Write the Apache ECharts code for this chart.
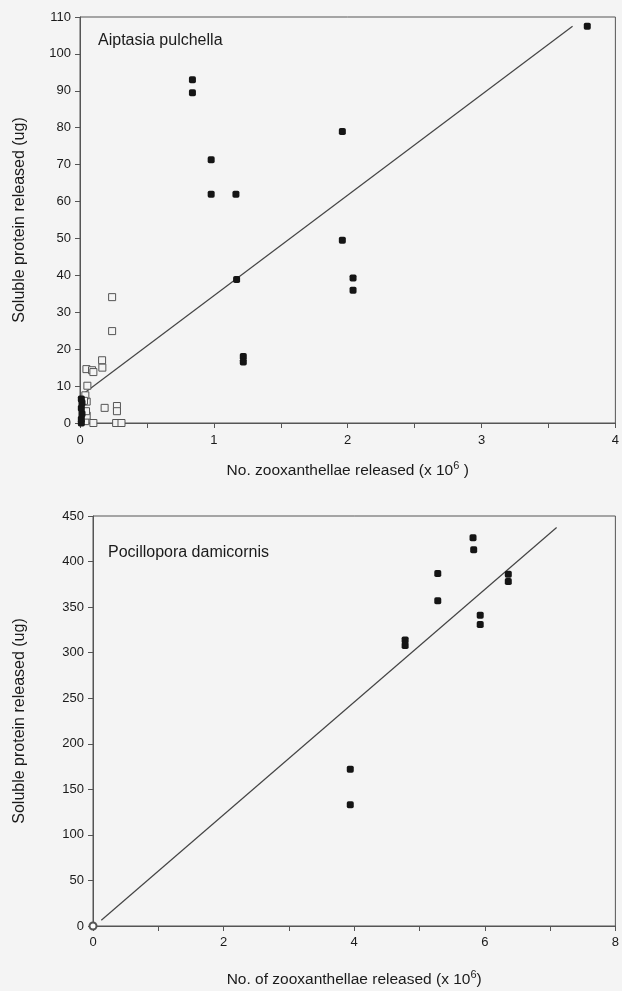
<!DOCTYPE html>
<html>
<head>
<meta charset="utf-8">
<script src="https://cdn.jsdelivr.net/npm/echarts@6/dist/echarts.min.js"></script>
<style>
  html, body { margin: 0; padding: 0; background: #f4f4f4; }
  #chart { width: 622px; height: 991px; }
</style>
</head>
<body>
<div id="chart"></div>
<script>
// Aiptasia pulchella: [zooxanthellae released (x 10^6), soluble protein (ug)]
var aiptasiaFilled = [
    [0.84, 93], [0.84, 89.5], [0.98, 71.3], [0.98, 62], [1.165, 62],
    [1.17, 38.9], [1.22, 18], [1.22, 16.5], [1.96, 79], [1.96, 49.5],
    [2.04, 39.3], [2.04, 36], [3.79, 107.5],
    [0.01, 0], [0.01, 1], [0.015, 2.5], [0.01, 4], [0.015, 5.5], [0.01, 6.5]
];
var aiptasiaOpen = [
    [0.24, 34.1], [0.24, 24.9], [0.165, 17], [0.167, 15], [0.048, 14.6],
    [0.09, 14.3], [0.1, 13.8], [0.055, 10.1], [0.184, 4.1], [0.276, 4.6],
    [0.276, 3.2], [0.1, 0], [0.27, 0], [0.31, 0],
    [0.04, 0.5], [0.05, 2], [0.045, 3.2], [0.05, 5.8], [0.04, 7.5], [0.03, 6]
];
var aiptasiaFit = [[0.035, 8.2], [3.68, 107.5]];

// Pocillopora damicornis
var pocilloporaFilled = [
    [5.82, 426], [5.83, 413], [5.28, 387], [5.28, 357], [6.36, 386],
    [6.36, 378], [5.93, 341], [5.93, 331], [4.78, 314], [4.78, 308],
    [3.94, 172], [3.94, 133]
];
var pocilloporaOpen = [[0, 0]];
var pocilloporaFit = [[0.127, 6.3], [7.1, 437.4]];

var ink = '#1a1a1a';
var fontFamily = 'Liberation Sans, Arial, sans-serif';
var labelFont = { color: ink, fontSize: 13, fontFamily: fontFamily };
var nameRich = {
    sup: { fontSize: 11, verticalAlign: 'bottom', padding: [0, 0, 10, 0], color: ink, fontFamily: fontFamily },
    p: { fontSize: 15.5, color: ink, fontFamily: fontFamily }
};

var chart = echarts.init(document.getElementById('chart'));

option = {
    backgroundColor: '#f4f4f4',
    animation: false,
    title: [
        { text: 'Aiptasia pulchella', left: 93, top: 28,
          textStyle: { color: ink, fontSize: 16, fontWeight: 'normal', fontFamily: fontFamily } },
        { text: 'Pocillopora damicornis', left: 103, top: 540,
          textStyle: { color: ink, fontSize: 16, fontWeight: 'normal', fontFamily: fontFamily } }
    ],
    grid: [
        { left: 80, right: 6, top: 17, height: 406, show: true, borderColor: '#555', borderWidth: 1 },
        { left: 93, right: 4, top: 516, height: 410, show: true, borderColor: '#555', borderWidth: 1 }
    ],
    xAxis: [
        {
            gridIndex: 0, type: 'value', min: 0, max: 4, interval: 0.5,
            name: 'No. zooxanthellae released (x 10{sup|6}{p| )}',
            nameLocation: 'middle', nameGap: 37,
            nameTextStyle: { color: ink, fontSize: 15.5, fontFamily: fontFamily, rich: nameRich },
            axisLine: { lineStyle: { color: '#555' } },
            axisTick: { length: 5, lineStyle: { color: '#555' } },
            axisLabel: Object.assign({ margin: 11, formatter: function (v) { return v % 1 === 0 ? String(v) : ''; } }, labelFont),
            splitLine: { show: false }
        },
        {
            gridIndex: 1, type: 'value', min: 0, max: 8, interval: 1,
            name: 'No. of zooxanthellae released (x 10{sup|6}{p|)}',
            nameLocation: 'middle', nameGap: 43,
            nameTextStyle: { color: ink, fontSize: 15.5, fontFamily: fontFamily, rich: nameRich },
            axisLine: { lineStyle: { color: '#555' } },
            axisTick: { length: 5, lineStyle: { color: '#555' } },
            axisLabel: Object.assign({ margin: 10, formatter: function (v) { return v % 2 === 0 ? String(v) : ''; } }, labelFont),
            splitLine: { show: false }
        }
    ],
    yAxis: [
        {
            gridIndex: 0, type: 'value', min: 0, max: 110, interval: 10,
            name: 'Soluble protein released (ug)',
            nameLocation: 'middle', nameGap: 52,
            nameTextStyle: { color: ink, fontSize: 16, fontFamily: fontFamily },
            axisLine: { show: true, lineStyle: { color: '#555' } },
            axisTick: { show: true, length: 5, lineStyle: { color: '#555' } },
            axisLabel: Object.assign({ margin: 9 }, labelFont),
            splitLine: { show: false }
        },
        {
            gridIndex: 1, type: 'value', min: 0, max: 450, interval: 50,
            name: 'Soluble protein released (ug)',
            nameLocation: 'middle', nameGap: 65,
            nameTextStyle: { color: ink, fontSize: 16, fontFamily: fontFamily },
            axisLine: { show: true, lineStyle: { color: '#555' } },
            axisTick: { show: true, length: 5, lineStyle: { color: '#555' } },
            axisLabel: Object.assign({ margin: 9 }, labelFont),
            splitLine: { show: false }
        }
    ],
    series: [
        {
            type: 'line', xAxisIndex: 0, yAxisIndex: 0, data: aiptasiaFit,
            symbol: 'none', lineStyle: { color: '#444', width: 1.2 }, z: 1
        },
        {
            type: 'scatter', xAxisIndex: 0, yAxisIndex: 0, data: aiptasiaOpen,
            symbol: 'rect', symbolSize: 7,
            itemStyle: { color: '#f4f4f4', borderColor: '#555', borderWidth: 1, opacity: 1 }, z: 2
        },
        {
            type: 'scatter', xAxisIndex: 0, yAxisIndex: 0, data: aiptasiaFilled,
            symbol: 'roundRect', symbolSize: 7, itemStyle: { color: '#151515', opacity: 1 }, z: 3
        },
        {
            type: 'line', xAxisIndex: 1, yAxisIndex: 1, data: pocilloporaFit,
            symbol: 'none', lineStyle: { color: '#444', width: 1.2 }, z: 1
        },
        {
            type: 'scatter', xAxisIndex: 1, yAxisIndex: 1, data: pocilloporaOpen,
            symbol: 'emptyCircle', symbolSize: 7,
            itemStyle: { color: '#555', borderWidth: 1, opacity: 1 }, z: 2
        },
        {
            type: 'scatter', xAxisIndex: 1, yAxisIndex: 1, data: pocilloporaFilled,
            symbol: 'roundRect', symbolSize: 7, itemStyle: { color: '#151515', opacity: 1 }, z: 3
        }
    ]
};

chart.setOption(option);
</script>
</body>
</html>
